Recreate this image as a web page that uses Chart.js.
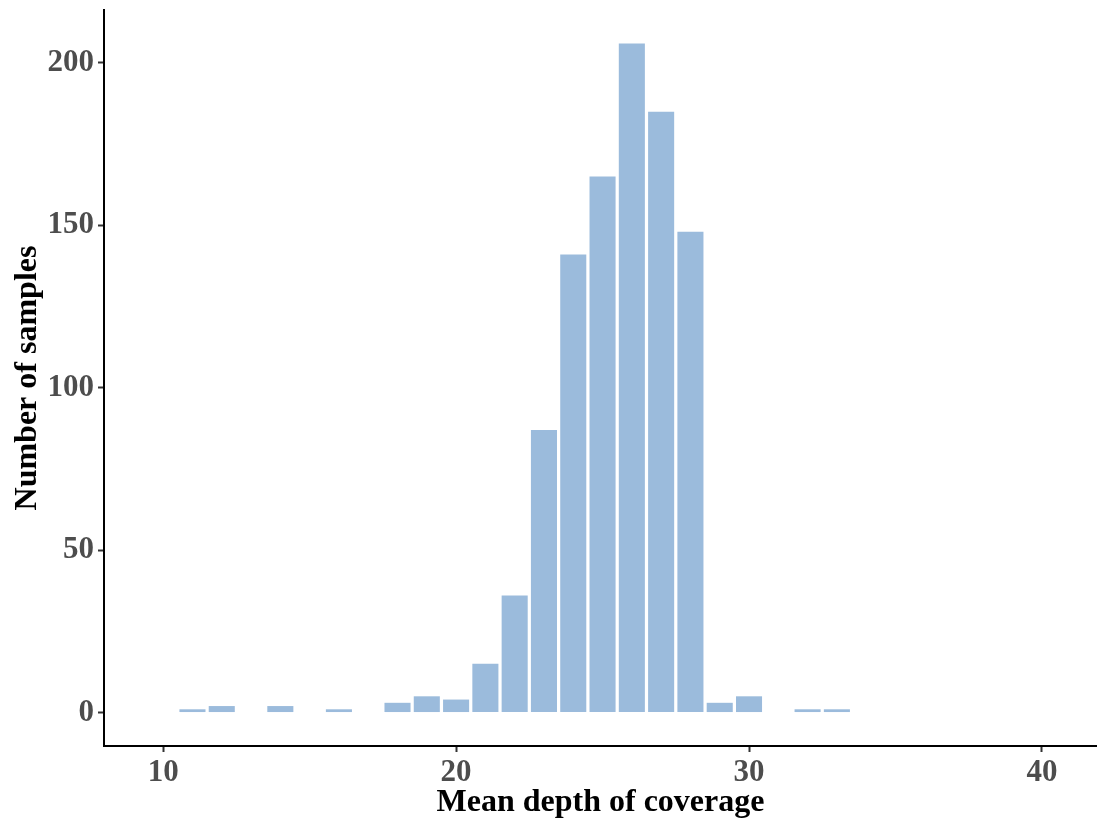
<!DOCTYPE html>
<html>
<head>
<meta charset="utf-8">
<script src="https://cdn.jsdelivr.net/npm/chart.js@4"></script>
<style>
  html, body { margin: 0; padding: 0; background: #ffffff; }
  canvas { display: block; }
</style>
</head>
<body>
<canvas id="depthChart" width="1097" height="825"></canvas>
<script>
  // histogram bins (centre of each 1x bin) and counts
  const depthBins = [11, 12, 14, 16, 18, 19, 20, 21, 22, 23, 24, 25, 26, 27, 28, 29, 30, 32, 33];
  const sampleCounts = [1, 2, 2, 1, 3, 5, 4, 15, 36, 87, 141, 165, 206, 185, 148, 3, 5, 1, 1];

  const xTicks = [10, 20, 30, 40];
  const yTicks = [0, 50, 100, 150, 200];

  const tickFont = { family: "'Liberation Serif', 'DejaVu Serif', serif", size: 31, weight: "bold" };
  const titleFont = { family: "'Liberation Serif', 'DejaVu Serif', serif", size: 32, weight: "bold" };

  const ctx = document.getElementById("depthChart").getContext("2d");

  new Chart(ctx, {
    type: "bar",
    data: {
      datasets: [
        {
          label: "Samples",
          data: depthBins.map((d, i) => ({ x: d, y: sampleCounts[i] })),
          backgroundColor: "#9bbbdc",
          borderWidth: 0,
          barPercentage: 0.89,
          categoryPercentage: 1,
        },
      ],
    },
    options: {
      responsive: false,
      animation: false,
      layout: { padding: { top: 10, left: 0, right: 0, bottom: 0 } },
      plugins: {
        legend: { display: false },
        tooltip: { enabled: false },
      },
      scales: {
        x: {
          type: "linear",
          offset: false,
          min: 7.98,
          max: 41.88,
          afterBuildTicks: (s) => { s.ticks = xTicks.map((v) => ({ value: v })); },
          afterFit: (s) => { s.height = 79; s.paddingLeft = 0; s.paddingRight = 0; },
          grid: { display: true, drawOnChartArea: false, drawTicks: true, tickLength: 6, tickWidth: 2, tickColor: "#333333", offset: false },
          border: { display: true, color: "#000000", width: 2 },
          ticks: { color: "#4d4d4d", font: tickFont, padding: 2, maxRotation: 0 },
          title: { display: true, text: "Mean depth of coverage", color: "#000000", font: titleFont, padding: { top: 0, bottom: 3 } },
        },
        y: {
          type: "linear",
          min: -10.3,
          max: 216.3,
          afterBuildTicks: (s) => { s.ticks = yTicks.map((v) => ({ value: v })); },
          afterFit: (s) => { s.width = 104; s.paddingTop = 0; s.paddingBottom = 0; },
          grid: { display: true, drawOnChartArea: false, drawTicks: true, tickLength: 6, tickWidth: 2, tickColor: "#333333" },
          border: { display: true, color: "#000000", width: 2 },
          ticks: { color: "#4d4d4d", font: tickFont, padding: 4 },
          title: { display: true, text: "Number of samples", color: "#000000", font: titleFont, padding: { top: 9, bottom: 0 } },
        },
      },
    },
  });
</script>
</body>
</html>
